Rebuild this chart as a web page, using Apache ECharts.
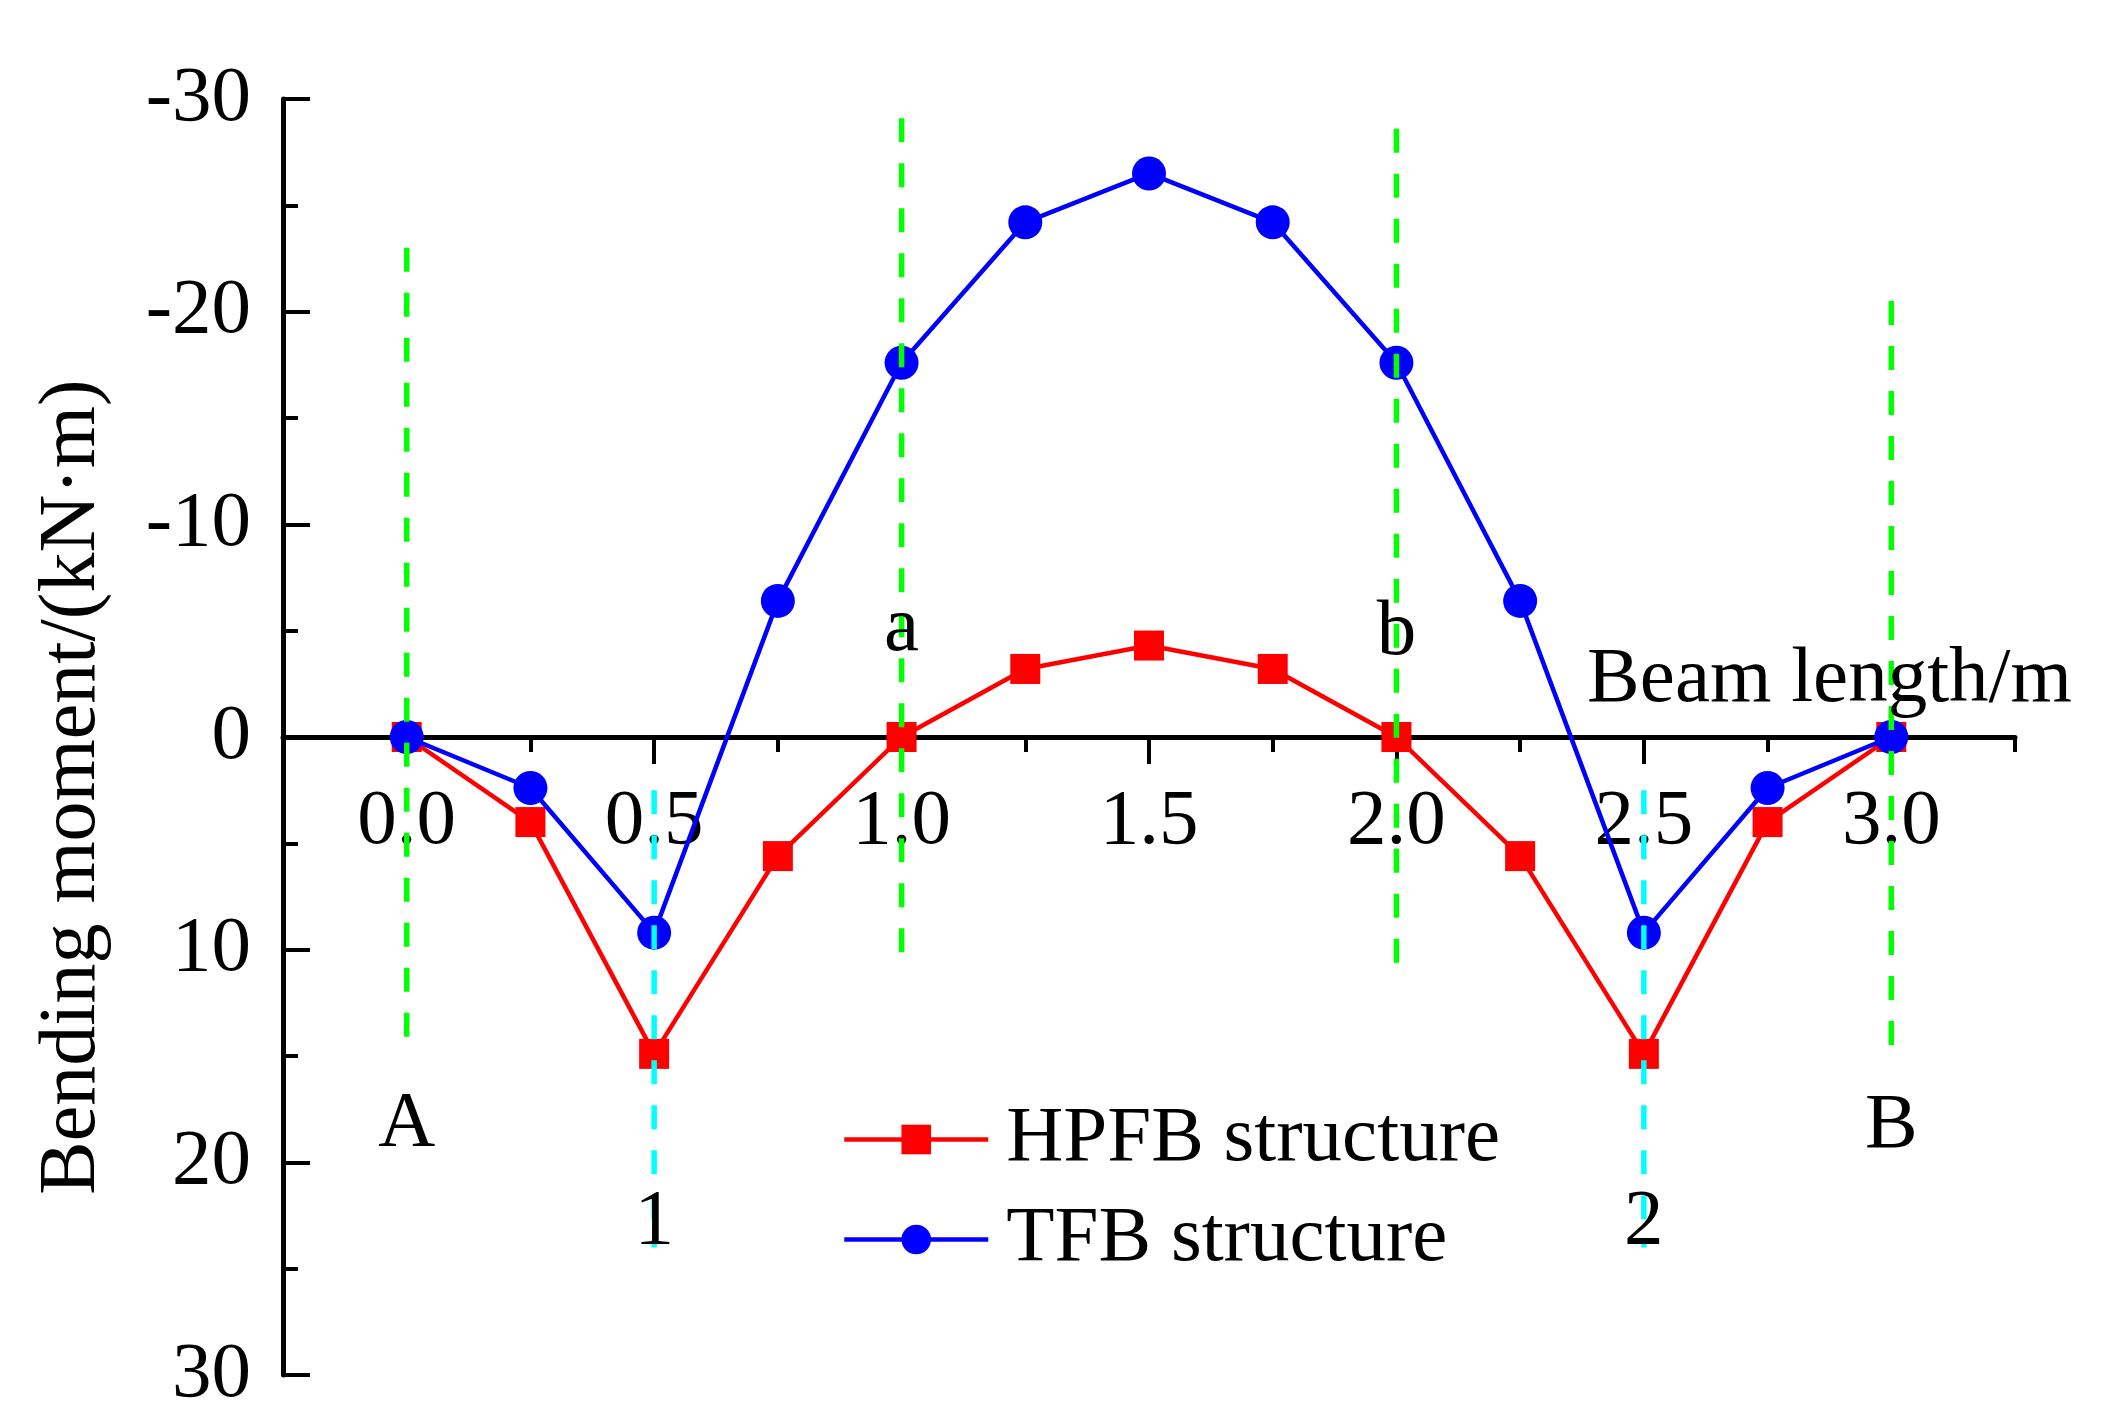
<!DOCTYPE html>
<html>
<head>
<meta charset="utf-8">
<script src="https://cdn.jsdelivr.net/npm/echarts@6/dist/echarts.min.js"></script>
<style>
  html, body { margin: 0; padding: 0; background: #ffffff; }
  #chart { width: 2102px; height: 1422px; }
</style>
</head>
<body>
<div id="chart"></div>
<script>
// ---- data ----
const beamPos = [0, 0.25, 0.5, 0.75, 1.0, 1.25, 1.5, 1.75, 2.0, 2.25, 2.5, 2.75, 3.0];
const hpfb = [0, 4.0, 14.9, 5.6, 0, -3.2, -4.3, -3.2, 0, 5.6, 14.9, 4.0, 0];
const tfb  = [0, 2.4, 9.2, -6.4, -17.6, -24.2, -26.5, -24.2, -17.6, -6.4, 9.2, 2.4, 0];
const seriesNames = ['HPFB structure', 'TFB structure'];

const xMajorTicks = [0, 0.5, 1.0, 1.5, 2.0, 2.5, 3.0];
const xMinorTicks = [0.25, 0.75, 1.25, 1.75, 2.25, 2.75, 3.25];

// vertical dashed reference lines: [x, top value, bottom value]
const sectionLines = [[0, -23.0, 14.8], [1.0, -29.1, 10.7], [2.0, -28.6, 11.4], [3.0, -20.5, 15.1]];
const loadLines = [[0.5, 2.5, 24.0], [2.5, 2.5, 24.0]];

// point annotations: [text, x, y]
const annotations = [['A', 0, 18.2], ['B', 3.0, 18.3], ['a', 1.0, -5.05], ['b', 2.0, -4.9], ['1', 0.5, 22.8], ['2', 2.5, 22.8]];

const xAxisTitle = 'Beam length/m';
const yAxisTitle = 'Bending moment/(kN\u00B7m)';

// ---- chart ----
const FONT = 'Liberation Serif';
const FS = 79;
const GRID_TOP = 99, GRID_BOTTOM_PX = 1375;
const ZERO_PX = 737;
const chart = echarts.init(document.getElementById('chart'), null, { renderer: 'canvas' });

function zip(xs, ys) { return xs.map((x, i) => [x, ys[i]]); }

const refSeries = [];
sectionLines.forEach(l => refSeries.push({
  type: 'line', data: [[l[0], l[1]], [l[0], l[2]]], symbol: 'none', silent: true, z: 5,
  lineStyle: { color: '#00FF00', width: 5.5, type: [24, 21] }, animation: false
}));
loadLines.forEach(l => refSeries.push({
  type: 'line', data: [[l[0], l[1]], [l[0], l[2]]], symbol: 'none', silent: true, z: 5,
  lineStyle: { color: '#00FFFF', width: 5.5, type: [24, 21] }, animation: false
}));

const xOffset = -(GRID_BOTTOM_PX - ZERO_PX);

const option = {
  backgroundColor: '#ffffff',
  animation: false,
  grid: { left: 283, right: 87, top: GRID_TOP, bottom: 1422 - GRID_BOTTOM_PX, containLabel: false, outerBoundsMode: 'none' },
  xAxis: [
    {
      type: 'value', min: -0.25, max: 3.25, position: 'bottom', offset: xOffset,
      axisLine: { show: true, onZero: false, lineStyle: { color: '#000', width: 5 } },
      axisTick: { show: true, customValues: xMajorTicks, length: 27, inside: false, lineStyle: { color: '#000', width: 4 } },
      axisLabel: { show: true, customValues: xMajorTicks, formatter: v => Number(v).toFixed(1), margin: 46,
        fontFamily: FONT, fontSize: FS, color: '#000' },
      splitLine: { show: false }
    },
    {
      type: 'value', min: -0.25, max: 3.25, position: 'bottom', offset: xOffset,
      axisLine: { show: false, onZero: false },
      axisTick: { show: true, customValues: xMinorTicks, length: 15, inside: false, lineStyle: { color: '#000', width: 4 } },
      axisLabel: { show: false },
      splitLine: { show: false }
    }
  ],
  yAxis: {
    type: 'value', inverse: true, min: -30, max: 30, interval: 10,
    axisLine: { show: true, onZero: false, lineStyle: { color: '#000', width: 5 } },
    axisTick: { show: true, inside: true, length: 27, lineStyle: { color: '#000', width: 4 } },
    minorTick: { show: true, splitNumber: 2, length: 15, lineStyle: { color: '#000', width: 4 } },
    axisLabel: { margin: 32, fontFamily: FONT, fontSize: FS, color: '#000' },
    splitLine: { show: false }
  },
  legend: {
    data: seriesNames, orient: 'vertical', left: 842, top: 1100, padding: 0,
    itemWidth: 144, itemHeight: 37, itemGap: 21,
    lineStyle: { width: 4.5 },
    textStyle: { fontFamily: FONT, fontSize: FS, color: '#000', lineHeight: 78, padding: [0, 0, 0, 13] }
  },
  graphic: [
    { type: 'text', x: 2072, y: 680, z: 100,
      style: { text: xAxisTitle, font: FS + 'px "' + FONT + '"', fill: '#000', align: 'right', verticalAlign: 'middle' } },
    { type: 'text', x: 73, y: 787, rotation: Math.PI / 2, z: 100,
      style: { text: yAxisTitle, font: '80px "' + FONT + '"', fill: '#000', align: 'center', verticalAlign: 'middle' } }
  ],
  series: [
    {
      name: seriesNames[0], type: 'line', data: zip(beamPos, hpfb), z: 2,
      symbol: 'rect', symbolSize: 30,
      lineStyle: { color: '#FF0000', width: 4.5 }, itemStyle: { color: '#FF0000' }
    },
    {
      name: seriesNames[1], type: 'line', data: zip(beamPos, tfb), z: 3,
      symbol: 'circle', symbolSize: 34,
      lineStyle: { color: '#0000FF', width: 4.5 }, itemStyle: { color: '#0000FF' }
    },
    ...refSeries,
    {
      type: 'scatter', z: 10, silent: true, symbol: 'circle', symbolSize: 2,
      itemStyle: { color: 'rgba(255,255,255,0)' },
      data: annotations.map(a => ({ name: a[0], value: [a[1], a[2]] })),
      label: { show: true, position: 'inside', formatter: p => p.name, fontFamily: FONT, fontSize: FS, color: '#000',
        opacity: 1, align: 'center', verticalAlign: 'middle' },
      labelLayout: { hideOverlap: false }
    }
  ]
};
chart.setOption(option);
</script>
</body>
</html>
